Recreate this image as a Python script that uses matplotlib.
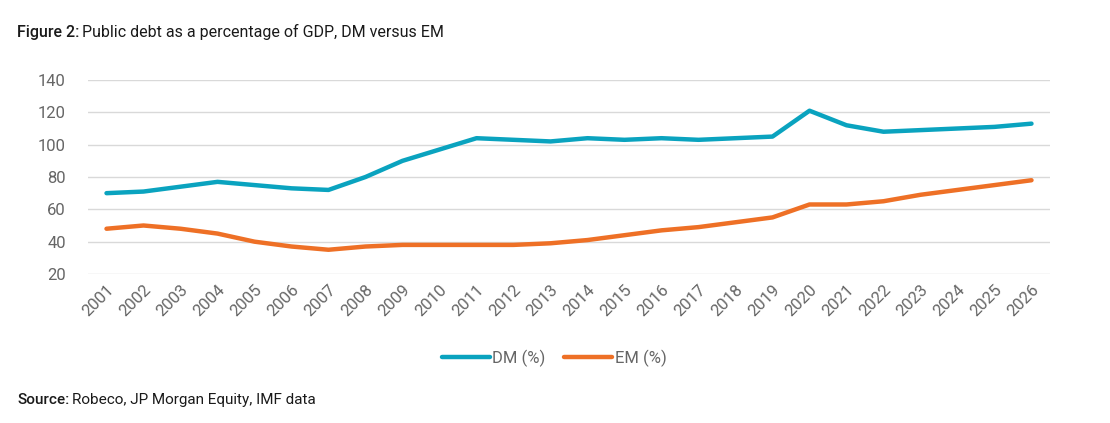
import numpy as np
import matplotlib.pyplot as plt
from matplotlib.transforms import offset_copy

years = list(range(2001, 2027))
dm = [70, 71, 74, 77, 75, 73, 72, 80, 90, 97, 104, 103, 102, 104, 103, 104, 103,
      104, 105, 121, 112, 108, 109, 110, 111, 113]
em = [48, 50, 48, 45, 40, 37, 35, 37, 38, 38, 38, 38, 39, 41, 44, 47, 49,
      52, 55, 63, 63, 65, 69, 72, 75, 78]
y_ticks = [20, 40, 60, 80, 100, 120, 140]

dm_color = "#0AA3BF"
em_color = "#EE7026"
tick_color = "#666666"

plt.rcParams["font.family"] = ["Roboto", "DejaVu Sans"]

fig = plt.figure(figsize=(11.1, 4.23), dpi=100)
ax = fig.add_axes([88 / 1110, 1 - 274 / 423, (1050 - 88) / 1110, (274 - 80) / 423])

ax.plot(years, dm, color=dm_color, lw=3.2, solid_capstyle="round", label="DM (%)")
ax.plot(years, em, color=em_color, lw=3.2, solid_capstyle="round", label="EM (%)")

ax.set_xlim(2000.5, 2026.5)
ax.set_ylim(20, 140)
ax.set_yticks(y_ticks)
ax.set_xticks(years)
ax.set_xticklabels([str(y) for y in years], rotation=45, ha="right",
                   rotation_mode="anchor", fontsize=12, color=tick_color)
ax.tick_params(axis="y", labelsize=12, colors=tick_color, length=0, pad=16)
ax.tick_params(axis="x", length=0, pad=6)
ax.grid(axis="y", color="#D9D9D9", lw=1)
ax.set_axisbelow(True)
for s in ax.spines.values():
    s.set_visible(False)

leg = fig.legend(loc="center", bbox_to_anchor=(554 / 1110, 1 - 358 / 423), ncol=2,
                 frameon=False, fontsize=12, handlelength=2.9, columnspacing=1.1,
                 handletextpad=0.15)
for t in leg.get_texts():
    t.set_color(tick_color)


def two_part(x, y, bold, rest, size):
    t = fig.text(x, y, bold, fontsize=size, fontweight="medium",
                 color="#1a1a1a", va="center")
    fig.canvas.draw()
    w = t.get_window_extent().width
    tr = offset_copy(fig.transFigure, fig=fig, x=w + 3, y=0, units="dots")
    fig.text(x, y, rest, fontsize=size, color="#1a1a1a", va="center", transform=tr)


two_part(17 / 1110, 1 - 32 / 423, "Figure 2:", "Public debt as a percentage of GDP, DM versus EM", 11.5)
two_part(17 / 1110, 1 - 400 / 423, "Source:", "Robeco, JP Morgan Equity, IMF data", 11.0)

fig.savefig("out.png", dpi=100)
